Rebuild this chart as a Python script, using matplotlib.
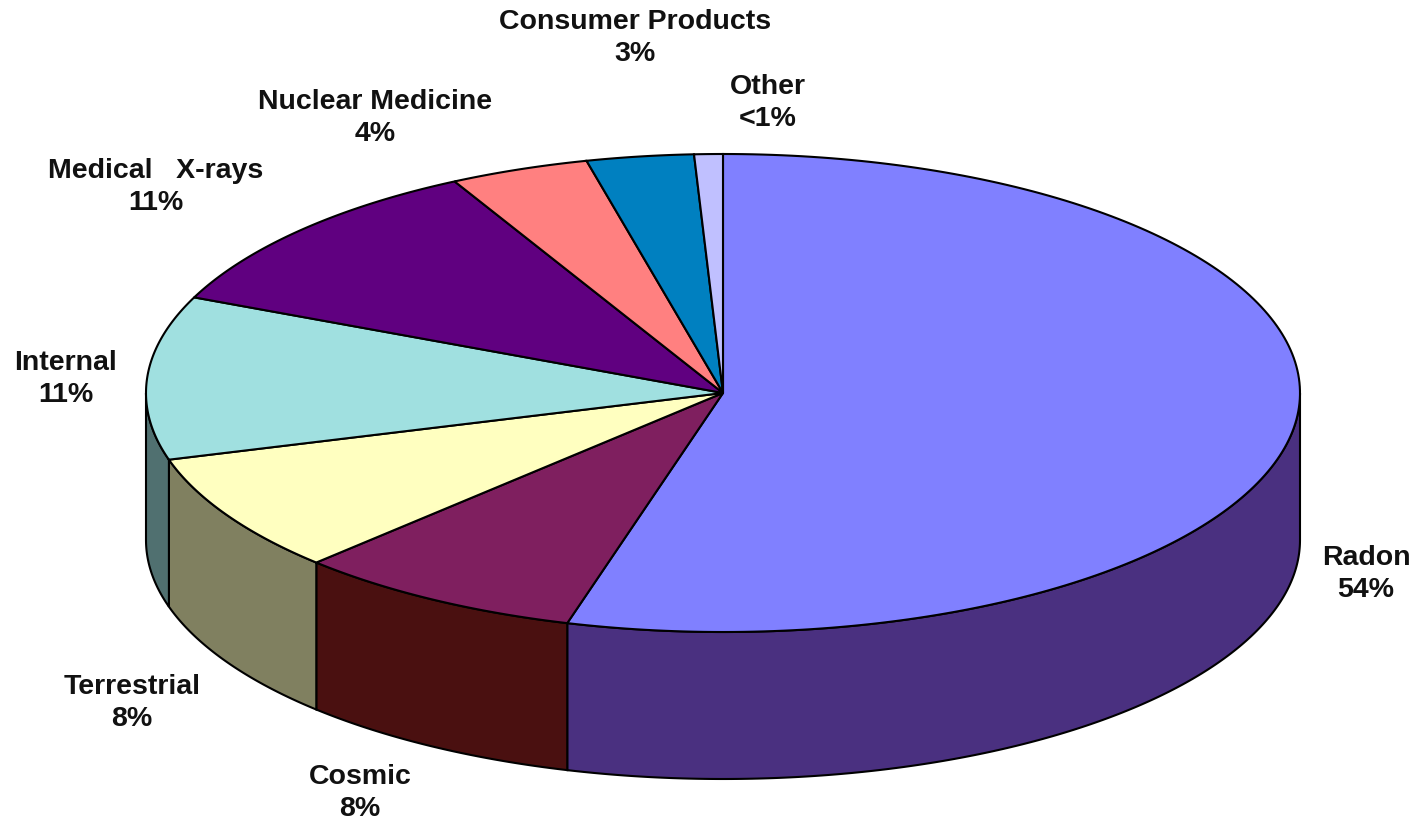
import numpy as np
from matplotlib import pyplot as plt

labels = ['Radon', 'Cosmic', 'Terrestrial', 'Internal', 'Medical   X-rays',
          'Nuclear Medicine', 'Consumer Products', 'Other']
pct_text = ['54%', '8%', '8%', '11%', '11%', '4%', '3%', '<1%']
values = [54.35, 8.1, 8.05, 11.05, 10.75, 3.9, 3.0, 0.8]
top_colors = ['#8080FF', '#7F1F5F', '#FFFFC0', '#A0E0E0', '#600080', '#FF8080', '#0080C0', '#C0C0FF']
side_colors = ['#4A3080', '#4A1010', '#808060', '#507070', '#300040', '#804040', '#004060', '#606080']
label_x = [1366, 360, 132, 66, 156, 375, 635, 768]
label_y = [574, 793, 703, 379, 187, 118, 38, 103]

# pie geometry in pixels
cx, cy = 723, 394
rx, ry = 577, 239
depth = 147


def ellipse(a0, a1, n=200):
    # angles in degrees clockwise from 12 o'clock
    t = np.radians(np.linspace(a0, a1, n))
    return cx + rx * np.sin(t), cy - ry * np.cos(t)


fig = plt.figure(figsize=(14.25, 8.2), dpi=100)
ax = fig.add_axes([0, 0, 1, 1])
ax.set_xlim(0, 1425)
ax.set_ylim(820, 0)
ax.axis('off')

edges = np.cumsum([0] + values) / sum(values) * 360

# walls first, only the front half of the rim shows
for i in range(len(values)):
    a0, a1 = max(edges[i], 90), min(edges[i + 1], 270)
    if a1 <= a0:
        continue
    x, y = ellipse(a0, a1)
    ax.fill(np.r_[x, x[::-1]], np.r_[y, y[::-1] + depth],
            facecolor=side_colors[i], edgecolor='black', linewidth=1.5)

for i in range(len(values)):
    x, y = ellipse(edges[i], edges[i + 1])
    ax.fill(np.r_[cx, x], np.r_[cy, y],
            facecolor=top_colors[i], edgecolor='black', linewidth=1.5)

for name, pct, lx, ly in zip(labels, pct_text, label_x, label_y):
    ax.text(lx, ly, name + '\n' + pct, ha='center', va='center', fontsize=20.5,
            fontweight='bold', family='Liberation Sans', color='#111111', linespacing=1.3)

fig.savefig('out.png', dpi=100)
